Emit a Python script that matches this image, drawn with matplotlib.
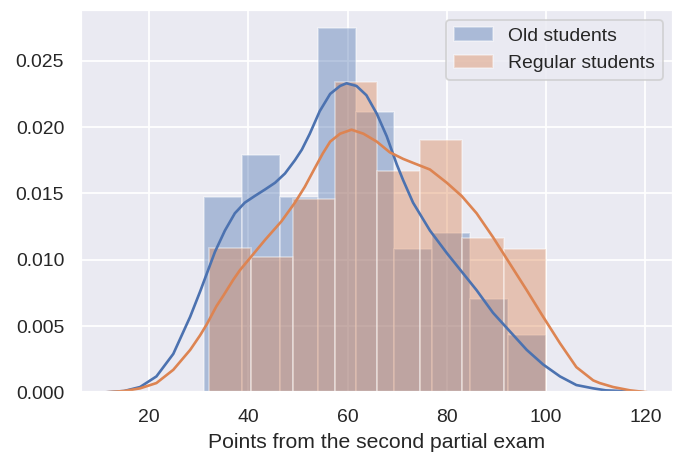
import numpy as np
import matplotlib
matplotlib.use("Agg")
import matplotlib.pyplot as plt
import seaborn as sns

# ---- data ----
old_range = (31.0, 100.0)
old_density = [0.0147, 0.0179, 0.0147, 0.0275, 0.0211, 0.0108, 0.0120, 0.0070, 0.0043]

reg_range = (32.0, 100.0)
reg_density = [0.0109, 0.0102, 0.0146, 0.0234, 0.0167, 0.0190, 0.0116, 0.0108]

old_kde_x = [11.3, 15.0, 18.2, 21.5, 24.9, 28.3, 30.3, 31.6, 33.3, 35.3, 37.3, 39.3,
             41.3, 43.4, 45.4, 47.4, 49.4, 50.8, 52.4, 54.4, 56.5, 58.5, 59.8, 61.8,
             63.8, 65.9, 67.9, 69.9, 71.2, 73.2, 76.6, 80.0, 83.0, 86.0, 89.3, 92.7,
             96.1, 99.4, 102.8, 106.1, 109.5, 112.0, 115.0, 120.0]
old_kde_y = [0.0, 0.0001, 0.0004, 0.0012, 0.0029, 0.0057, 0.0076, 0.0089, 0.0106, 0.0122,
             0.0135, 0.0143, 0.0148, 0.0153, 0.0158, 0.0165, 0.0175, 0.0183, 0.0195, 0.0212,
             0.0225, 0.0231, 0.0233, 0.0231, 0.0224, 0.0210, 0.0193, 0.0172, 0.0160, 0.0143,
             0.0122, 0.0105, 0.0091, 0.0077, 0.0060, 0.0046, 0.0032, 0.0021, 0.0012, 0.00055,
             0.0003, 0.00015, 0.0001, 0.0]

reg_kde_x = [11.3, 15.0, 18.2, 21.5, 24.9, 28.3, 30.3, 31.6, 33.6, 35.0, 37.0, 38.3,
             40.3, 43.4, 46.7, 49.4, 51.4, 53.4, 55.0, 56.5, 58.5, 60.8, 63.2, 65.9,
             68.5, 71.2, 73.2, 76.6, 80.0, 83.0, 86.0, 89.3, 92.7, 96.1, 99.4, 102.8,
             106.1, 109.5, 110.8, 113.5, 116.9, 120.5]
reg_kde_y = [0.0, 0.0001, 0.0003, 0.0007, 0.0017, 0.0032, 0.0043, 0.0051, 0.0065, 0.0073,
             0.0085, 0.0092, 0.0101, 0.0115, 0.0129, 0.0143, 0.0155, 0.0169, 0.0180, 0.0189,
             0.0195, 0.0198, 0.0195, 0.0189, 0.0181, 0.0176, 0.0173, 0.0168, 0.0158, 0.0148,
             0.0135, 0.0117, 0.0097, 0.0077, 0.0057, 0.0037, 0.0019, 0.0009, 0.0007, 0.0004,
             0.00015, 0.0]

labels = ["Old students", "Regular students"]
xlabel = "Points from the second partial exam"
xticks = [20, 40, 60, 80, 100, 120]
yticks = [0.000, 0.005, 0.010, 0.015, 0.020, 0.025]

# ---- style ----
sns.set_theme()
plt.rcParams["font.family"] = ["Liberation Sans", "DejaVu Sans"]
pal = sns.color_palette("deep")
c_old, c_reg = pal[0], pal[1]

DPI = 127
fig = plt.figure(figsize=(677 / DPI, 452 / DPI), dpi=DPI)
ax = fig.add_axes([0.1196, 0.132, 0.874, 0.846])

def draw(rng, dens, kx, ky, color, label):
    edges = np.linspace(rng[0], rng[1], len(dens) + 1)
    ax.bar(edges[:-1], dens, width=np.diff(edges), align="edge", color=color,
           alpha=0.4, edgecolor="white", linewidth=1.0, label=label)
    ax.plot(kx, ky, color=color, lw=1.5)

draw(old_range, old_density, old_kde_x, old_kde_y, c_old, labels[0])
draw(reg_range, reg_density, reg_kde_x, reg_kde_y, c_reg, labels[1])

ax.set_xlim(6.3, 125.5)
ax.set_ylim(0, 0.02883)
ax.set_xticks(xticks)
ax.set_yticks(yticks)
ax.set_yticklabels([f"{v:.3f}" for v in yticks])
ax.set_xlabel(xlabel)
ax.legend(loc="upper right")

fig.savefig("out.png", dpi=DPI)
